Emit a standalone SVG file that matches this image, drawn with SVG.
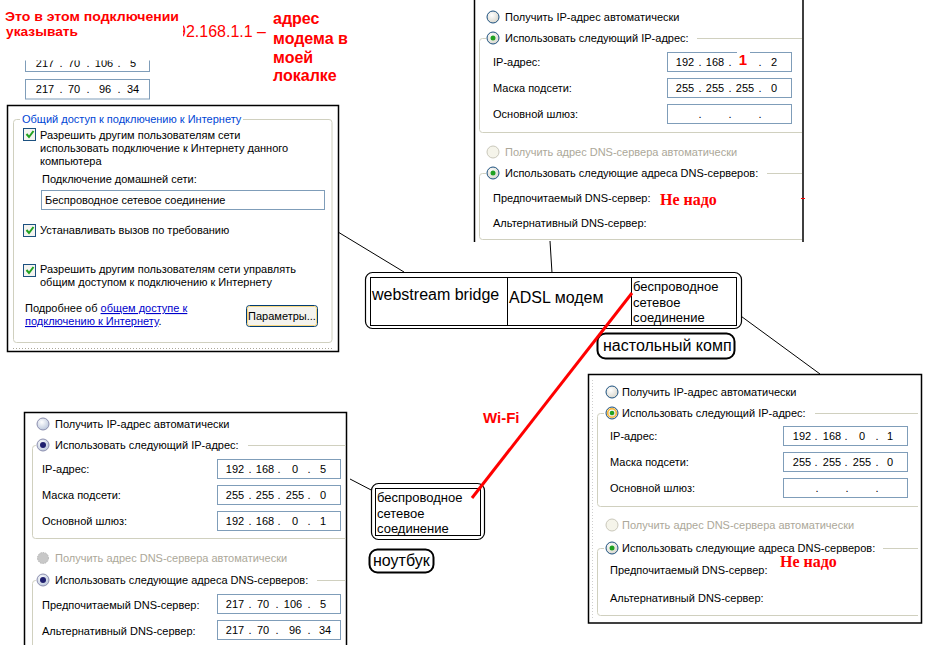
<svg xmlns="http://www.w3.org/2000/svg" xmlns:xlink="http://www.w3.org/1999/xlink" width="933" height="669" viewBox="0 0 933 669">
<style>
.t{font-family:"Liberation Sans",Arial,sans-serif;font-size:11px;fill:#000}
.dis{fill:#ACA899}
.blue{fill:#0046D5}
.link{fill:#0000CC;text-decoration:underline}
.c{text-anchor:middle}
.grp{fill:none;stroke:#D0D0BF;stroke-width:1}
.ip{fill:#fff;stroke:#7F9DB9;stroke-width:1}
.frame{fill:none;stroke:#000;stroke-width:1.5}
.redb{font-family:"Liberation Sans",Arial,sans-serif;font-weight:bold;fill:#FF0000}
.nenado{font-family:"Liberation Serif","Times New Roman",serif;font-weight:bold;font-size:16px;fill:#FF0000}
.big{font-family:"Liberation Sans",Arial,sans-serif;font-size:16px;fill:#000}
.mid{font-family:"Liberation Sans",Arial,sans-serif;font-size:13px;fill:#000}
.box{fill:#fff;stroke:#000;stroke-width:1.2}
.lbl{fill:#fff;stroke:#000;stroke-width:2}
.conn{stroke:#000;stroke-width:1;fill:none}
.cb{fill:#F4F4F0;stroke:#1C5180;stroke-width:1}
.chk{fill:none;stroke:#21A121;stroke-width:2}
</style>
<defs>
<radialGradient id="rg" cx="0.4" cy="0.35" r="0.7"><stop offset="0" stop-color="#FFFFFF"/><stop offset="1" stop-color="#D6D4CA"/></radialGradient>
<radialGradient id="sg" cx="0.4" cy="0.35" r="0.7"><stop offset="0" stop-color="#FFFFFF"/><stop offset="1" stop-color="#B8C4DA"/></radialGradient>
<g id="rOff"><circle r="6" fill="url(#rg)" stroke="#1C5180"/></g>
<g id="rOn"><circle r="6" fill="url(#rg)" stroke="#1C5180"/><circle r="2.5" fill="#21A121"/></g>
<g id="rOnOr"><circle r="6" fill="url(#rg)" stroke="#1C5180"/><circle r="4.3" fill="none" stroke="#F8B636" stroke-width="1.6"/><circle r="2.3" fill="#21A121"/></g>
<g id="rDis"><circle r="6" fill="#F5F4EA" stroke="#CAC8BB"/></g>
<g id="sOff"><circle r="6" fill="url(#sg)" stroke="#8C8FAF"/></g>
<g id="sOn"><circle r="6" fill="url(#sg)" stroke="#8C8FAF"/><circle r="3" fill="#202070"/></g>
<g id="sDis"><circle r="5.5" fill="#C8C8C8" stroke="#B4B4B4" stroke-dasharray="1.5,1"/></g>
<clipPath id="clipTop"><rect x="0" y="60.5" width="200" height="50"/></clipPath>
<clipPath id="clipIp"><rect x="183" y="0" width="120" height="60"/></clipPath>
</defs>

<rect x="0" y="0" width="933" height="669" fill="#fff"/>

<!-- Top-left note -->
<g id="note-top-left">
<text class="redb" x="5" y="21" font-size="13" textLength="174" lengthAdjust="spacingAndGlyphs">Это в этом подключении</text>
<text class="redb" x="6" y="36" font-size="13" textLength="72" lengthAdjust="spacingAndGlyphs">указывать</text>
<g clip-path="url(#clipIp)"><text x="177" y="37" font-family="Liberation Sans, Arial, sans-serif" font-size="16" fill="#FF0000">92.168.1.1 –</text></g>
<text class="redb" font-size="16"><tspan x="273" y="24">адрес</tspan><tspan x="273" y="44">модема в</tspan><tspan x="273" y="63">моей</tspan><tspan x="273" y="81">локалке</tspan></text>
</g>

<!-- DNS snippet -->
<g id="dns-snippet">
<g clip-path="url(#clipTop)">
<rect class="ip" x="25.5" y="52.5" width="124" height="19"/>
<text class="t c" y="67"><tspan x="45">217</tspan></text>
<text class="t c" y="67"><tspan x="61">.</tspan><tspan x="74">70</tspan><tspan x="88">.</tspan><tspan x="104">106</tspan><tspan x="119">.</tspan><tspan x="133">5</tspan></text>
</g>
<rect class="ip" x="25.5" y="79.5" width="124" height="19.5"/>
<text class="t c" y="93"><tspan x="45">217</tspan><tspan x="61">.</tspan><tspan x="74">70</tspan><tspan x="88">.</tspan><tspan x="105">96</tspan><tspan x="119">.</tspan><tspan x="133">34</tspan></text>
</g>

<!-- ICS panel -->
<g id="panel-ics">
<rect x="7.5" y="105.5" width="331" height="246" fill="#fff" stroke="#000" stroke-width="1.5"/>
<path class="grp" d="M20,119.5 H16.5 Q13.5,119.5 13.5,122.5 V339.5 Q13.5,342.5 16.5,342.5 H329 Q332,342.5 332,339.5 V122.5 Q332,119.5 329,119.5 H243"/>
<line x1="13" y1="348.5" x2="332" y2="348.5" stroke="#ACA899" stroke-dasharray="1,2"/>
<text class="t blue" x="22" y="123">Общий доступ к подключению к Интернету</text>
<rect class="cb" x="23.5" y="128.5" width="12" height="12"/>
<path class="chk" d="M26.5,134 l2.5,3 l4.5,-6"/>
<text class="t"><tspan x="40" y="139">Разрешить другим пользователям сети</tspan><tspan x="40" y="152">использовать подключение к Интернету данного</tspan><tspan x="40" y="165">компьютера</tspan></text>
<text class="t" x="42" y="183">Подключение домашней сети:</text>
<rect class="ip" x="41.5" y="190.5" width="283" height="19"/>
<text class="t" x="45" y="204">Беспроводное сетевое соединение</text>
<rect class="cb" x="23.5" y="224.5" width="12" height="12"/>
<path class="chk" d="M26.5,230 l2.5,3 l4.5,-6"/>
<text class="t" x="40" y="234">Устанавливать вызов по требованию</text>
<rect class="cb" x="23.5" y="264.5" width="12" height="12"/>
<path class="chk" d="M26.5,270 l2.5,3 l4.5,-6"/>
<text class="t"><tspan x="40" y="273">Разрешить другим пользователям сети управлять</tspan><tspan x="40" y="286">общим доступом к подключению к Интернету</tspan></text>
<text class="t" x="25" y="312">Подробнее об <tspan class="link">общем доступе к</tspan></text>
<text class="t" x="25" y="325"><tspan class="link">подключению к Интернету</tspan>.</text>
<rect x="246.5" y="305.5" width="71" height="21" rx="3" fill="#F4F3EE" stroke="#003C74"/>
<rect x="247.5" y="306.5" width="69" height="19" rx="2" fill="none" stroke="#F9D77E" stroke-width="1"/>
<text class="t c" x="282" y="320">Параметры...</text>
</g>

<!-- Modem IP panel (top right) -->
<g id="panel-modem-ip">
<rect x="474" y="0" width="329" height="242" fill="#fff"/>
<path class="frame" d="M474.5,0 V242 M803,0 V242"/>
<path class="grp" d="M486,38.5 H482.5 Q479.5,38.5 479.5,41.5 V129.5 Q479.5,132.5 482.5,132.5 H802 M697,38.5 H802"/>
<path class="grp" d="M486,173.5 H482.5 Q479.5,173.5 479.5,176.5 V236.5 Q479.5,239.5 482.5,239.5 H802 M767,173.5 H802"/>
<use href="#rOff" x="493" y="17"/>
<text class="t" x="505" y="21">Получить IP-адрес автоматически</text>
<use href="#rOn" x="493" y="38"/>
<text class="t" x="505" y="42">Использовать следующий IP-адрес:</text>
<text class="t" x="493" y="66">IP-адрес:</text>
<rect class="ip" x="667.5" y="52.5" width="124" height="19"/>
<rect x="737" y="51" width="13" height="3" fill="#fff"/>
<text class="t c" y="66"><tspan x="685">192</tspan><tspan x="700">.</tspan><tspan x="715">168</tspan><tspan x="730">.</tspan><tspan x="760">.</tspan><tspan x="774">2</tspan></text>
<text class="redb c" x="743" y="65" font-size="15">1</text>
<text class="t" x="493" y="92">Маска подсети:</text>
<rect class="ip" x="667.5" y="78.5" width="124" height="19"/>
<text class="t c" y="92"><tspan x="685">255</tspan><tspan x="700">.</tspan><tspan x="715">255</tspan><tspan x="730">.</tspan><tspan x="745">255</tspan><tspan x="760">.</tspan><tspan x="774">0</tspan></text>
<text class="t" x="493" y="118">Основной шлюз:</text>
<rect class="ip" x="667.5" y="104.5" width="124" height="19"/>
<text class="t c" y="118"><tspan x="700">.</tspan><tspan x="730">.</tspan><tspan x="760">.</tspan></text>
<use href="#rDis" x="493" y="152"/>
<text class="t dis" x="505" y="156">Получить адрес DNS-сервера автоматически</text>
<use href="#rOn" x="493" y="173"/>
<text class="t" x="505" y="177">Использовать следующие адреса DNS-серверов:</text>
<text class="t" x="493" y="202">Предпочитаемый DNS-сервер:</text>
<text class="nenado" x="660" y="205">Не надо</text>
<text class="t" x="493" y="227">Альтернативный DNS-сервер:</text>
<line x1="801" y1="198.5" x2="805" y2="198.5" stroke="#FF0000"/>
</g>

<!-- Desktop IP panel (bottom right) -->
<g id="panel-desktop-ip">
<rect x="588.5" y="374.5" width="333" height="248.5" fill="#fff" stroke="#000" stroke-width="1.5"/>
<line x1="592.5" y1="380" x2="592.5" y2="620" stroke="#CFCFCF" stroke-dasharray="1,2"/>
<path class="grp" d="M604,413.5 H600.5 Q597.5,413.5 597.5,416.5 V503.5 Q597.5,506.5 600.5,506.5 H918 M815,413.5 H918"/>
<path class="grp" d="M604,548.5 H600.5 Q597.5,548.5 597.5,551.5 V612.5 Q597.5,615.5 600.5,615.5 H918 M883,548.5 H918"/>
<use href="#rOff" x="612" y="392"/>
<text class="t" x="622" y="396">Получить IP-адрес автоматически</text>
<use href="#rOnOr" x="612" y="413"/>
<text class="t" x="622" y="417">Использовать следующий IP-адрес:</text>
<text class="t" x="610" y="440">IP-адрес:</text>
<rect class="ip" x="783.5" y="426.5" width="124" height="19"/>
<text class="t c" y="440"><tspan x="802">192</tspan><tspan x="816">.</tspan><tspan x="832">168</tspan><tspan x="846">.</tspan><tspan x="862">0</tspan><tspan x="877">.</tspan><tspan x="890">1</tspan></text>
<text class="t" x="610" y="466">Маска подсети:</text>
<rect class="ip" x="783.5" y="452.5" width="124" height="19"/>
<text class="t c" y="466"><tspan x="802">255</tspan><tspan x="816">.</tspan><tspan x="832">255</tspan><tspan x="846">.</tspan><tspan x="862">255</tspan><tspan x="877">.</tspan><tspan x="890">0</tspan></text>
<text class="t" x="610" y="492">Основной шлюз:</text>
<rect class="ip" x="783.5" y="478.5" width="124" height="19"/>
<text class="t c" y="492"><tspan x="817">.</tspan><tspan x="847">.</tspan><tspan x="877">.</tspan></text>
<use href="#rDis" x="612" y="525"/>
<text class="t dis" x="622" y="529">Получить адрес DNS-сервера автоматически</text>
<use href="#rOn" x="612" y="548"/>
<text class="t" x="622" y="552">Использовать следующие адреса DNS-серверов:</text>
<text class="nenado" x="780" y="567">Не надо</text>
<text class="t" x="610" y="574">Предпочитаемый DNS-сервер:</text>
<text class="t" x="610" y="602">Альтернативный DNS-сервер:</text>
</g>

<!-- Laptop IP panel (bottom left) -->
<g id="panel-laptop-ip">
<rect x="24.5" y="412.5" width="322" height="240" fill="#fff"/>
<path class="frame" d="M24.5,645 V412.5 H346.5 V645"/>
<path class="grp" d="M36,445.5 H35.5 Q32.5,445.5 32.5,448.5 V535.5 Q32.5,538.5 35.5,538.5 H345.5 M248,445.5 H345.5"/>
<path class="grp" d="M36,580.5 H35.5 Q32.5,580.5 32.5,583.5 V645 M317,580.5 H345.5"/>
<use href="#sOff" x="43" y="424"/>
<text class="t" x="55" y="428">Получить IP-адрес автоматически</text>
<use href="#sOn" x="43" y="445"/>
<text class="t" x="55" y="449">Использовать следующий IP-адрес:</text>
<text class="t" x="42" y="473">IP-адрес:</text>
<rect class="ip" x="217.5" y="459.5" width="123" height="19"/>
<text class="t c" y="473"><tspan x="235">192</tspan><tspan x="250">.</tspan><tspan x="265">168</tspan><tspan x="279">.</tspan><tspan x="295">0</tspan><tspan x="309">.</tspan><tspan x="323">5</tspan></text>
<text class="t" x="42" y="499">Маска подсети:</text>
<rect class="ip" x="217.5" y="485.5" width="123" height="19"/>
<text class="t c" y="499"><tspan x="235">255</tspan><tspan x="250">.</tspan><tspan x="265">255</tspan><tspan x="279">.</tspan><tspan x="295">255</tspan><tspan x="309">.</tspan><tspan x="323">0</tspan></text>
<text class="t" x="42" y="525">Основной шлюз:</text>
<rect class="ip" x="217.5" y="511.5" width="123" height="19"/>
<text class="t c" y="525"><tspan x="235">192</tspan><tspan x="250">.</tspan><tspan x="265">168</tspan><tspan x="279">.</tspan><tspan x="295">0</tspan><tspan x="309">.</tspan><tspan x="323">1</tspan></text>
<use href="#sDis" x="43" y="558"/>
<text class="t dis" x="55" y="562">Получить адрес DNS-сервера автоматически</text>
<use href="#sOn" x="43" y="580"/>
<text class="t" x="55" y="584">Использовать следующие адреса DNS-серверов:</text>
<text class="t" x="42" y="609">Предпочитаемый DNS-сервер:</text>
<rect class="ip" x="217.5" y="594.5" width="123" height="19"/>
<text class="t c" y="608"><tspan x="235">217</tspan><tspan x="250">.</tspan><tspan x="263">70</tspan><tspan x="277">.</tspan><tspan x="293">106</tspan><tspan x="309">.</tspan><tspan x="323">5</tspan></text>
<text class="t" x="42" y="635">Альтернативный DNS-сервер:</text>
<rect class="ip" x="217.5" y="620.5" width="123" height="19"/>
<text class="t c" y="634"><tspan x="235">217</tspan><tspan x="250">.</tspan><tspan x="263">70</tspan><tspan x="277">.</tspan><tspan x="295">96</tspan><tspan x="309">.</tspan><tspan x="325">34</tspan></text>
</g>

<!-- Connectors -->
<g id="connectors">
<line class="conn" x1="338" y1="232" x2="404" y2="272"/>
<line class="conn" x1="550" y1="241" x2="553" y2="289"/>
<line class="conn" x1="734" y1="311" x2="820" y2="374"/>
<line class="conn" x1="350" y1="479" x2="375" y2="492"/>
</g>

<!-- Desktop node -->
<g id="node-desktop">
<rect class="box" x="365.5" y="272.5" width="376" height="56" rx="7"/>
<rect x="370.5" y="277.5" width="366" height="48" fill="#fff" stroke="#000" stroke-width="1"/>
<line x1="507.5" y1="277.5" x2="507.5" y2="325.5" stroke="#000"/>
<line x1="631.5" y1="277.5" x2="631.5" y2="325.5" stroke="#000"/>
<text class="big" x="372" y="300">webstream bridge</text>
<text class="big" x="509" y="303">ADSL модем</text>
<text class="mid"><tspan x="633" y="291">беспроводное</tspan><tspan x="633" y="307">сетевое</tspan><tspan x="633" y="322">соединение</tspan></text>
</g>
<g id="label-desktop">
<rect class="lbl" x="597.5" y="333.5" width="137" height="25" rx="8"/>
<text class="big" x="603" y="351">настольный комп</text>
</g>

<!-- Laptop node -->
<g id="node-laptop">
<rect class="box" x="371.5" y="483.5" width="113" height="56" rx="7"/>
<rect x="375.5" y="488.5" width="105" height="47" fill="#fff" stroke="#000" stroke-width="1"/>
<text class="mid"><tspan x="377" y="502">беспроводное</tspan><tspan x="377" y="518">сетевое</tspan><tspan x="377" y="533">соединение</tspan></text>
</g>
<g id="label-laptop">
<rect class="lbl" x="369.5" y="549.5" width="64" height="23" rx="8"/>
<text class="big" x="373" y="566">ноутбук</text>
</g>

<!-- Wi-Fi link -->
<g id="wifi-link">
<line x1="472" y1="498" x2="632" y2="293" stroke="#FF0000" stroke-width="3"/>
<text class="redb" x="483" y="423" font-size="15">Wi-Fi</text>
</g>
</svg>
